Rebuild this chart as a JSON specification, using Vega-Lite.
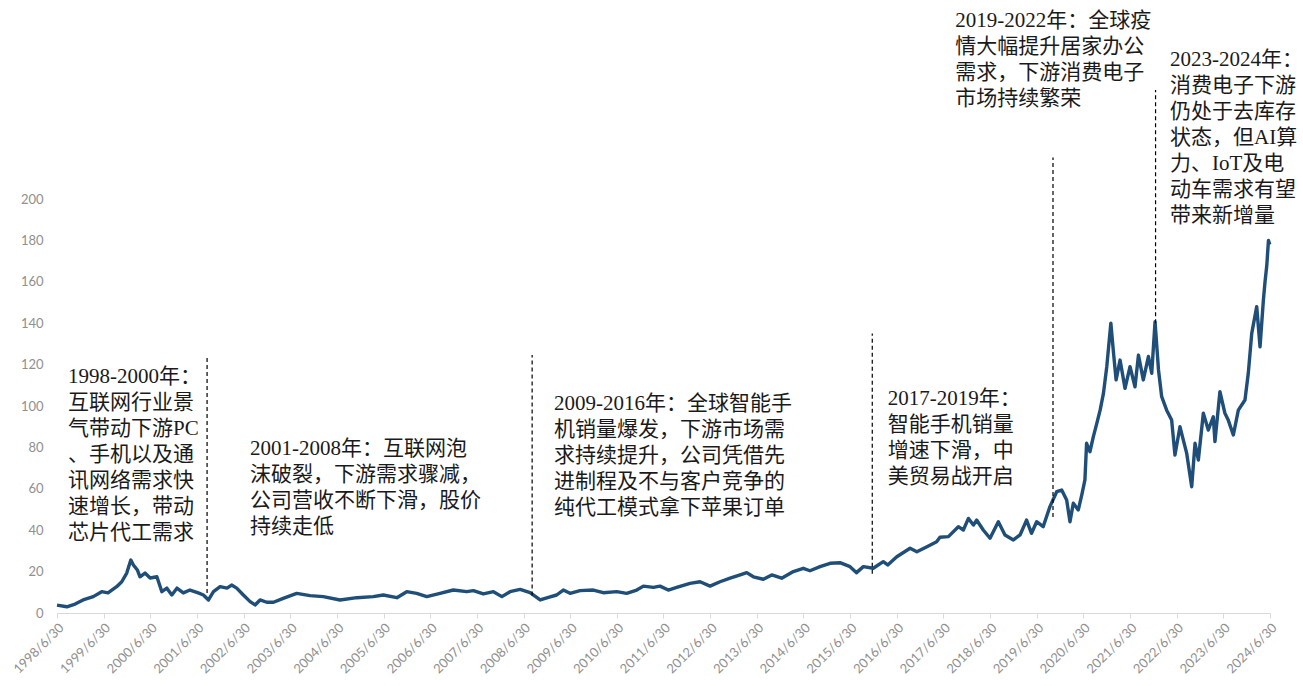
{
  "$schema": "https://vega.github.io/schema/vega-lite/v6.json",
  "width": 1213,
  "height": 414,
  "autosize": {"type": "none"},
  "padding": {"left": 57, "top": 199, "right": 33, "bottom": 73},
  "background": "white",
  "config": {"view": {"stroke": null}},
  "datasets": {
    "price": [
      {"date":"1998-06-30","price":3.8},{"date":"1998-09-15","price":3.0},{"date":"1998-11-19","price":4.3},
      {"date":"1999-01-20","price":6.3},{"date":"1999-04-10","price":7.9},{"date":"1999-06-15","price":10.3},
      {"date":"1999-08-03","price":9.7},{"date":"1999-10-10","price":12.7},{"date":"1999-11-19","price":15.1},
      {"date":"1999-12-28","price":19.3},{"date":"2000-01-29","price":25.6},{"date":"2000-02-18","price":23.2},
      {"date":"2000-03-20","price":20.8},{"date":"2000-04-10","price":17.5},{"date":"2000-05-19","price":19.3},
      {"date":"2000-06-28","price":16.9},{"date":"2000-08-20","price":17.5},{"date":"2000-09-28","price":10.3},
      {"date":"2000-11-06","price":12},{"date":"2000-12-15","price":8.7},{"date":"2001-01-24","price":12},
      {"date":"2001-03-15","price":9.7},{"date":"2001-05-06","price":11.1},{"date":"2001-07-10","price":9.7},
      {"date":"2001-08-19","price":8.7},{"date":"2001-09-28","price":6.3},{"date":"2001-11-06","price":10.3},
      {"date":"2001-12-28","price":12.7},{"date":"2002-02-20","price":12},{"date":"2002-03-28","price":13.5},
      {"date":"2002-05-07","price":12},{"date":"2002-06-28","price":8.7},{"date":"2002-08-20","price":5.5},
      {"date":"2002-09-28","price":3.9},{"date":"2002-11-06","price":6.3},{"date":"2002-12-28","price":5.2},
      {"date":"2003-02-19","price":5.2},{"date":"2003-05-06","price":7.1},{"date":"2003-08-20","price":9.5},
      {"date":"2003-12-02","price":8.4},{"date":"2004-03-15","price":7.9},{"date":"2004-07-24","price":6.3},
      {"date":"2004-12-03","price":7.4},{"date":"2005-04-10","price":7.9},{"date":"2005-06-28","price":8.7},
      {"date":"2005-10-12","price":7.4},{"date":"2005-12-28","price":10.3},{"date":"2006-03-16","price":9.5},
      {"date":"2006-06-03","price":7.9},{"date":"2006-09-15","price":9.5},{"date":"2006-12-28","price":11.1},
      {"date":"2007-04-12","price":10.3},{"date":"2007-06-03","price":10.8},{"date":"2007-08-20","price":9.2},
      {"date":"2007-11-07","price":10.3},{"date":"2008-01-12","price":7.9},{"date":"2008-03-16","price":10.3},
      {"date":"2008-06-03","price":11.4},{"date":"2008-08-20","price":9.8},{"date":"2008-11-07","price":6.3},
      {"date":"2009-01-11","price":7.6},{"date":"2009-03-16","price":8.7},{"date":"2009-05-07","price":11.1},
      {"date":"2009-06-29","price":9.5},{"date":"2009-09-15","price":10.8},{"date":"2009-12-28","price":11.1},
      {"date":"2010-03-16","price":9.8},{"date":"2010-06-29","price":10.3},{"date":"2010-09-15","price":9.5},
      {"date":"2010-12-03","price":11.1},{"date":"2011-01-24","price":13},{"date":"2011-04-12","price":12.4},
      {"date":"2011-06-03","price":13},{"date":"2011-08-07","price":11.1},{"date":"2011-10-12","price":12.4},
      {"date":"2012-01-24","price":14.3},{"date":"2012-04-12","price":15.1},{"date":"2012-06-29","price":13},
      {"date":"2012-09-15","price":15.1},{"date":"2012-12-03","price":16.8},{"date":"2013-02-20","price":18.4},
      {"date":"2013-04-12","price":19.5},{"date":"2013-06-03","price":17.5},{"date":"2013-08-20","price":16.3},
      {"date":"2013-10-25","price":18.4},{"date":"2014-01-11","price":16.8},{"date":"2014-04-12","price":20},
      {"date":"2014-06-29","price":21.6},{"date":"2014-08-20","price":20.4},{"date":"2014-11-07","price":22.4},
      {"date":"2015-01-25","price":24},{"date":"2015-04-12","price":24.3},{"date":"2015-06-30","price":22.4},
      {"date":"2015-08-20","price":19.5},{"date":"2015-10-12","price":22.4},{"date":"2015-12-29","price":21.6},
      {"date":"2016-03-16","price":24.8},{"date":"2016-04-20","price":23.2},{"date":"2016-06-30","price":27.2},
      {"date":"2016-10-12","price":31.3},{"date":"2016-12-04","price":29.6},{"date":"2017-02-21","price":32},
      {"date":"2017-05-08","price":34.4},{"date":"2017-06-03","price":36.6},{"date":"2017-08-08","price":36.9},
      {"date":"2017-10-25","price":41.7},{"date":"2017-12-03","price":40.1},{"date":"2018-01-12","price":45.7},
      {"date":"2018-02-20","price":42.5},{"date":"2018-03-17","price":44.9},{"date":"2018-05-08","price":40.1},
      {"date":"2018-06-30","price":36.1},{"date":"2018-09-03","price":44.1},{"date":"2018-10-25","price":37.7},
      {"date":"2018-12-30","price":35.3},{"date":"2019-02-20","price":37.7},{"date":"2019-04-12","price":44.9},
      {"date":"2019-05-21","price":38.5},{"date":"2019-06-30","price":44.1},{"date":"2019-08-20","price":41.7},
      {"date":"2019-10-12","price":51.4},{"date":"2019-12-04","price":58.6},{"date":"2020-01-12","price":59.4},
      {"date":"2020-02-20","price":54.6},{"date":"2020-03-17","price":44.1},{"date":"2020-04-12","price":53},
      {"date":"2020-05-21","price":49.8},{"date":"2020-06-17","price":57},{"date":"2020-07-12","price":64.3},
      {"date":"2020-07-25","price":82},{"date":"2020-08-20","price":77.9},{"date":"2020-09-16","price":85.2},
      {"date":"2020-10-13","price":91.6},{"date":"2020-11-08","price":98},{"date":"2020-12-04","price":106.1},
      {"date":"2020-12-30","price":119},{"date":"2021-01-31","price":140},{"date":"2021-02-21","price":125.5},
      {"date":"2021-03-13","price":112.6},{"date":"2021-04-13","price":122.2},{"date":"2021-05-22","price":108.5},
      {"date":"2021-06-30","price":119},{"date":"2021-08-08","price":109.3},{"date":"2021-09-04","price":124.6},
      {"date":"2021-10-12","price":112.6},{"date":"2021-11-21","price":123.9},{"date":"2021-12-17","price":115.8},
      {"date":"2022-01-12","price":140.7},{"date":"2022-02-08","price":117.4},{"date":"2022-03-05","price":104.5},
      {"date":"2022-04-13","price":98},{"date":"2022-05-22","price":93.2},{"date":"2022-06-17","price":76.3},
      {"date":"2022-07-26","price":90},{"date":"2022-08-21","price":83.6},{"date":"2022-09-17","price":77.1},
      {"date":"2022-10-26","price":61},{"date":"2022-11-21","price":82},{"date":"2022-12-17","price":73.9},
      {"date":"2023-01-25","price":96.5},{"date":"2023-03-05","price":88.4},{"date":"2023-04-13","price":94.8},
      {"date":"2023-04-26","price":82.8},{"date":"2023-06-04","price":106.9},{"date":"2023-07-13","price":96.5},
      {"date":"2023-08-08","price":93.2},{"date":"2023-09-17","price":86},{"date":"2023-10-26","price":98},
      {"date":"2023-12-17","price":102.9},{"date":"2024-01-12","price":115.8},{"date":"2024-02-08","price":135.1},
      {"date":"2024-03-18","price":148},{"date":"2024-04-13","price":128.6},{"date":"2024-05-09","price":151},
      {"date":"2024-05-22","price":160},{"date":"2024-06-05","price":168},{"date":"2024-06-18","price":180},
      {"date":"2024-06-28","price":178}
    ],
    "rules": [
      {"date":"2001-09-17","y1":9.7,"y2":124.6},
      {"date":"2008-09-05","y1":8.5,"y2":124.6},
      {"date":"2015-12-21","y1":19,"y2":135},
      {"date":"2019-11-05","y1":46.4,"y2":220},
      {"date":"2022-01-16","y1":140,"y2":252.7}
    ],
    "notes": [
      {"date":"1998-09-24","y":119.1,"label":"1998-2000年：\n互联网行业景\n气带动下游PC\n、手机以及通\n讯网络需求快\n速增长，带动\n芯片代工需求"},
      {"date":"2002-08-20","y":84.3,"label":"2001-2008年：互联网泡\n沫破裂，下游需求骤减，\n公司营收不断下滑，股价\n持续走低"},
      {"date":"2009-02-24","y":106.5,"label":"2009-2016年：全球智能手\n机销量爆发，下游市场需\n求持续提升，公司凭借先\n进制程及不与客户竞争的\n纯代工模式拿下苹果订单"},
      {"date":"2016-04-21","y":108.9,"label":"2017-2019年：\n智能手机销量\n增速下滑，中\n美贸易战开启"},
      {"date":"2017-09-30","y":291.1,"label":"2019-2022年：全球疫\n情大幅提升居家办公\n需求，下游消费电子\n市场持续繁荣"},
      {"date":"2022-05-09","y":272.7,"label":"2023-2024年：\n消费电子下游\n仍处于去库存\n状态，但AI算\n力、IoT及电\n动车需求有望\n带来新增量"}
    ]
  },
  "layer": [
    {
      "data": {"name": "price"},
      "mark": {"type": "line", "color": "#1f4e79", "strokeWidth": 3.4, "strokeJoin": "round"},
      "encoding": {
        "x": {
          "field": "date", "type": "temporal",
          "scale": {"type": "utc", "domain": [{"year":1998,"month":6,"date":30,"utc":true},{"year":2024,"month":6,"date":30,"utc":true}]},
          "axis": {
            "title": null, "grid": false,
            "values": [
              {"year":1998,"month":6,"date":30,"utc":true},{"year":1999,"month":6,"date":30,"utc":true},{"year":2000,"month":6,"date":30,"utc":true},
              {"year":2001,"month":6,"date":30,"utc":true},{"year":2002,"month":6,"date":30,"utc":true},{"year":2003,"month":6,"date":30,"utc":true},
              {"year":2004,"month":6,"date":30,"utc":true},{"year":2005,"month":6,"date":30,"utc":true},{"year":2006,"month":6,"date":30,"utc":true},
              {"year":2007,"month":6,"date":30,"utc":true},{"year":2008,"month":6,"date":30,"utc":true},{"year":2009,"month":6,"date":30,"utc":true},
              {"year":2010,"month":6,"date":30,"utc":true},{"year":2011,"month":6,"date":30,"utc":true},{"year":2012,"month":6,"date":30,"utc":true},
              {"year":2013,"month":6,"date":30,"utc":true},{"year":2014,"month":6,"date":30,"utc":true},{"year":2015,"month":6,"date":30,"utc":true},
              {"year":2016,"month":6,"date":30,"utc":true},{"year":2017,"month":6,"date":30,"utc":true},{"year":2018,"month":6,"date":30,"utc":true},
              {"year":2019,"month":6,"date":30,"utc":true},{"year":2020,"month":6,"date":30,"utc":true},{"year":2021,"month":6,"date":30,"utc":true},
              {"year":2022,"month":6,"date":30,"utc":true},{"year":2023,"month":6,"date":30,"utc":true},{"year":2024,"month":6,"date":30,"utc":true}
            ],
            "format": "%Y/%-m/%d",
            "labelAngle": -45, "labelAlign": "right", "labelBaseline": "top",
            "labelOverlap": false, "labelFlush": false,
            "labelFont": "Lato", "labelFontSize": 13, "labelColor": "#8f8f8f", "labelPadding": 3,
            "domainColor": "#d9d9d9", "domainWidth": 1.2, "tickColor": "#d9d9d9", "tickSize": 5
          }
        },
        "y": {
          "field": "price", "type": "quantitative",
          "scale": {"domain": [0, 200], "nice": false},
          "axis": {
            "title": null, "grid": false, "domain": false, "ticks": false,
            "values": [0,20,40,60,80,100,120,140,160,180,200],
            "labelFont": "Lato", "labelFontSize": 13, "labelColor": "#8f8f8f", "labelPadding": 14
          }
        }
      }
    },
    {
      "data": {"name": "rules"},
      "mark": {"type": "rule", "color": "#000000", "strokeWidth": 1.2, "strokeDash": [4, 3]},
      "encoding": {
        "x": {"field": "date", "type": "temporal"},
        "y": {"field": "y1", "type": "quantitative", "scale": {"domain": [0, 200], "nice": false}},
        "y2": {"field": "y2"}
      }
    },
    {
      "data": {"name": "notes"},
      "mark": {"type": "text", "align": "left", "baseline": "top", "lineBreak": "\n", "lineHeight": 26, "fontSize": 21, "font": "Liberation Serif, Noto Sans CJK SC", "color": "#1a1a1a"},
      "encoding": {
        "x": {"field": "date", "type": "temporal"},
        "y": {"field": "y", "type": "quantitative", "scale": {"domain": [0, 200], "nice": false}},
        "text": {"field": "label"}
      }
    }
  ]
}
